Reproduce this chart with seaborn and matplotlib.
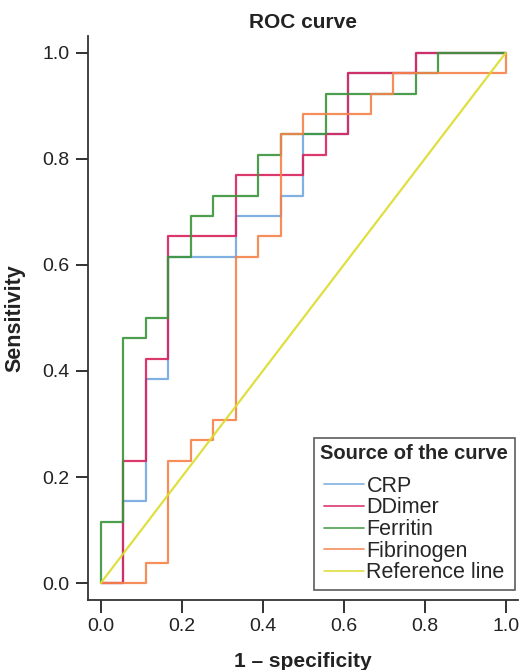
import numpy as np
import pandas as pd
import matplotlib
matplotlib.use('Agg')
import matplotlib.pyplot as plt
import seaborn as sns

# ROC step corners, as counts of negatives (x) and positives (y)
n_neg = 18
n_pos = 26

crp_x = [0, 1, 1, 2, 2, 3, 3, 6, 6, 8, 8, 9, 9, 11, 11, 14, 14, 18]
crp_y = [0, 0, 4, 4, 10, 10, 16, 16, 18, 18, 19, 19, 22, 22, 25, 25, 26, 26]

ddimer_x = [0, 1, 1, 2, 2, 3, 3, 6, 6, 9, 9, 10, 10, 11, 11, 14, 14, 18]
ddimer_y = [0, 0, 6, 6, 11, 11, 17, 17, 20, 20, 21, 21, 22, 22, 25, 25, 26, 26]

ferritin_x = [0, 0, 1, 1, 2, 2, 3, 3, 4, 4, 5, 5, 7, 7, 8, 8, 10, 10, 14, 14, 15, 15, 18]
ferritin_y = [0, 3, 3, 12, 12, 13, 13, 16, 16, 18, 18, 19, 19, 21, 21, 22, 22, 24, 24, 25, 25, 26, 26]

fibrinogen_x = [0, 2, 2, 3, 3, 4, 4, 5, 5, 6, 6, 7, 7, 8, 8, 9, 9, 12, 12, 13, 13, 18, 18]
fibrinogen_y = [0, 0, 1, 1, 6, 6, 7, 7, 8, 8, 16, 16, 17, 17, 22, 22, 23, 23, 24, 24, 25, 25, 26]

ref_x = [0, 1]
ref_y = [0, 1]

curves = ['CRP', 'DDimer', 'Ferritin', 'Fibrinogen', 'Reference line']
colors = ['#73a8e0', '#d8225c', '#3a953c', '#f5824a', '#dcdc2c']

frames = []
for name, xs, ys in [('CRP', crp_x, crp_y), ('DDimer', ddimer_x, ddimer_y),
                     ('Ferritin', ferritin_x, ferritin_y),
                     ('Fibrinogen', fibrinogen_x, fibrinogen_y)]:
    frames.append(pd.DataFrame({'fpr': np.array(xs) / n_neg,
                                'tpr': np.array(ys) / n_pos,
                                'curve': name}))
frames.append(pd.DataFrame({'fpr': ref_x, 'tpr': ref_y, 'curve': 'Reference line'}))
df = pd.concat(frames, ignore_index=True)

sns.set_style('ticks')
plt.rcParams['font.family'] = ['Liberation Sans', 'DejaVu Sans']

fig = plt.figure(figsize=(5.23, 6.70), dpi=100)
ax = fig.add_axes([0.168, 0.1045, 0.822, 0.8418])

sns.lineplot(data=df, x='fpr', y='tpr', hue='curve', hue_order=curves,
             palette=dict(zip(curves, colors)), sort=False, estimator=None,
             units='curve', linewidth=1.6, alpha=0.9, ax=ax)

ax.set_xlim(-0.032, 1.03)
ax.set_ylim(-0.032, 1.032)
ticks = [0.0, 0.2, 0.4, 0.6, 0.8, 1.0]
ax.set_xticks(ticks)
ax.set_yticks(ticks)
ax.set_xticklabels([f'{t:.1f}' for t in ticks])
ax.set_yticklabels([f'{t:.1f}' for t in ticks])
ax.tick_params(axis='both', labelsize=14, length=9, width=1.3, color='#222222',
               labelcolor='#222222', pad=4)
for s in ['left', 'bottom']:
    ax.spines[s].set_linewidth(1.3)
    ax.spines[s].set_color('#333333')
sns.despine(ax=ax)

ax.set_title('ROC curve', fontsize=15, fontweight='bold', pad=6, color='#222222')
ax.set_xlabel('1 \u2013 specificity', fontsize=15, fontweight='bold', labelpad=12,
              color='#222222')
ax.set_ylabel('Sensitivity', fontsize=15.5, fontweight='bold', labelpad=12,
              color='#222222')

leg = ax.legend(title='Source of the curve', loc='lower right',
                bbox_to_anchor=(0.993, 0.018), borderaxespad=0,
                fontsize=15.5, title_fontsize=14.5,
                frameon=True, fancybox=False, handlelength=1.85,
                handletextpad=0.12, labelspacing=0.03, borderpad=0.3)
leg.get_title().set_fontweight('bold')
leg.get_frame().set_edgecolor('#333333')
leg.get_frame().set_linewidth(1.2)
leg._legend_box.sep = 9
for line in leg.get_lines():
    line.set_linewidth(1.2)

fig.savefig('out.png', dpi=100)
